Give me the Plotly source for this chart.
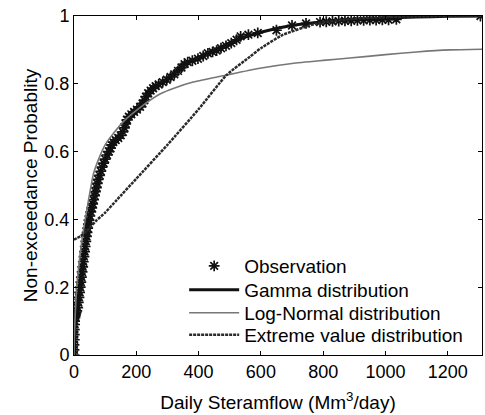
import plotly.graph_objects as go

# Observations (empirical non-exceedance probabilities)
obs_x = [0, 0, 0, 1, 1, 1, 2, 2, 3, 4, 5, 7, 9, 12, 14, 16, 18, 20, 22, 24, 26, 28, 30, 32, 34, 36,
         38, 40, 42, 44, 46, 48, 51, 54, 57, 60, 63, 66, 69, 72, 75, 78, 82, 86, 90, 95, 100, 106,
         112, 117, 121, 126, 134, 142, 150, 157, 162, 166, 170, 176, 184, 193, 202, 212, 220, 226,
         231, 238, 246, 254, 262, 272, 285, 298, 310, 322, 334, 345, 355, 365, 380, 398, 415, 430,
         445, 458, 472, 488, 505, 522, 535, 560, 590, 650, 700, 745, 790, 810, 830, 850, 870, 890,
         910, 930, 950, 970, 990, 1010, 1035, 1305]
obs_p = [0.0, 0.015, 0.03, 0.045, 0.06, 0.075, 0.09, 0.10, 0.11, 0.115, 0.12, 0.125, 0.13, 0.14,
         0.155, 0.17, 0.185, 0.20, 0.215, 0.23, 0.245, 0.26, 0.275, 0.29, 0.305, 0.32, 0.335, 0.35,
         0.362, 0.374, 0.386, 0.398, 0.41, 0.422, 0.434, 0.446, 0.458, 0.47, 0.482, 0.494, 0.506,
         0.518, 0.53, 0.542, 0.554, 0.566, 0.578, 0.59, 0.60, 0.61, 0.62, 0.628, 0.634, 0.64, 0.648,
         0.658, 0.67, 0.682, 0.694, 0.703, 0.71, 0.717, 0.724, 0.732, 0.742, 0.752, 0.762, 0.772,
         0.78, 0.787, 0.793, 0.798, 0.805, 0.812, 0.82, 0.828, 0.838, 0.848, 0.858, 0.864, 0.868,
         0.874, 0.882, 0.89, 0.894, 0.898, 0.905, 0.912, 0.92, 0.93, 0.94, 0.945, 0.95, 0.958, 0.972,
         0.978, 0.982, 0.983, 0.984, 0.985, 0.986, 0.986, 0.987, 0.987, 0.988, 0.988, 0.989, 0.989,
         0.99, 1.0]

# Gamma distribution fit
gam_x = [0, 2, 5, 10, 15, 20, 30, 40, 50, 60, 75, 90, 100, 125, 150, 175, 200, 250, 300, 350,
         400, 450, 500, 550, 600, 650, 700, 800, 900, 1000, 1100, 1200, 1310]
gam_p = [0.0, 0.07, 0.11, 0.13, 0.16, 0.2, 0.27, 0.33, 0.39, 0.44, 0.5, 0.545, 0.57, 0.615,
         0.65, 0.69, 0.72, 0.78, 0.815, 0.855, 0.878, 0.9, 0.92, 0.938, 0.952, 0.963, 0.972,
         0.983, 0.99, 0.994, 0.997, 0.999, 1.0]

# Log-Normal distribution fit
ln_x = [0, 1, 3, 6, 10, 20, 36, 55, 63, 80, 100, 127, 160, 212, 276, 330, 383, 490, 597,
        700, 800, 885, 1000, 1100, 1206, 1310]
ln_p = [0.0, 0.05, 0.10, 0.16, 0.21, 0.30, 0.40, 0.50, 0.536, 0.58, 0.62, 0.654, 0.69, 0.73,
        0.77, 0.79, 0.805, 0.826, 0.846, 0.86, 0.869, 0.876, 0.886, 0.894, 0.90, 0.902]

# Extreme value distribution fit
ev_x = [0, 10, 20, 40, 70, 100, 137, 200, 300, 400, 490, 565, 600, 670, 780, 900, 1000, 1100,
        1200, 1310]
ev_p = [0.34, 0.345, 0.35, 0.365, 0.395, 0.42, 0.457, 0.52, 0.62, 0.725, 0.826, 0.88, 0.905,
        0.944, 0.978, 0.992, 0.997, 0.999, 1.0, 1.0]

x_ticks = [0, 200, 400, 600, 800, 1000, 1200]
y_ticks = [0, 0.2, 0.4, 0.6, 0.8, 1]
y_tick_labels = ["0", "0.2", "0.4", "0.6", "0.8", "1"]

FONT = "Liberation Sans, Arial, sans-serif"

fig = go.Figure()
fig.add_trace(go.Scatter(
    x=obs_x, y=obs_p, mode="markers", name="Observation", legend="legend",
    marker=dict(symbol="asterisk-open", size=9, color="#111111",
                line=dict(color="#111111", width=1.7)),
))
fig.add_trace(go.Scatter(
    x=gam_x, y=gam_p, mode="lines", name="Gamma distribution", legend="legend2",
    line=dict(color="#111111", width=3, shape="spline", smoothing=0.6),
))
fig.add_trace(go.Scatter(
    x=ln_x, y=ln_p, mode="lines", name="Log-Normal distribution", legend="legend3",
    line=dict(color="#777777", width=1.6, shape="spline", smoothing=0.6),
))
fig.add_trace(go.Scatter(
    x=ev_x, y=ev_p, mode="lines", name="Extreme value distribution", legend="legend4",
    line=dict(color="#2a2a2a", width=2.5, dash="3px,1px", shape="spline", smoothing=0.5),
))

axis_common = dict(
    showline=True, linecolor="black", linewidth=1, mirror="ticks",
    ticks="inside", ticklen=4, tickcolor="black", showgrid=False, zeroline=False,
    tickfont=dict(family=FONT, size=18, color="black"),
)


def legend_at(yc):
    return dict(
        x=0.27, y=yc, xanchor="left", yanchor="middle",
        bgcolor="rgba(0,0,0,0)", borderwidth=0,
        font=dict(family=FONT, size=19, color="black"),
        itemwidth=50,
    )


fig.update_layout(
    width=485, height=415,
    margin=dict(l=74, r=3, t=16, b=60),
    paper_bgcolor="white", plot_bgcolor="white",
    font=dict(family=FONT, size=18, color="black"),
    showlegend=True,
    legend=legend_at(0.2625),
    legend2=legend_at(0.192),
    legend3=legend_at(0.124),
    legend4=legend_at(0.059),
    xaxis=dict(
        range=[0, 1310], tickvals=x_ticks,
        title=dict(text="Daily Steramflow (Mm<sup>3</sup>/day)", standoff=15,
                   font=dict(family=FONT, size=19)),
        **axis_common,
    ),
    yaxis=dict(
        range=[0, 1], tickvals=y_ticks, ticktext=y_tick_labels,
        title=dict(text="Non-exceedance Probablity", standoff=1,
                   font=dict(family=FONT, size=19)),
        **axis_common,
    ),
)

fig.write_html("out.html")
